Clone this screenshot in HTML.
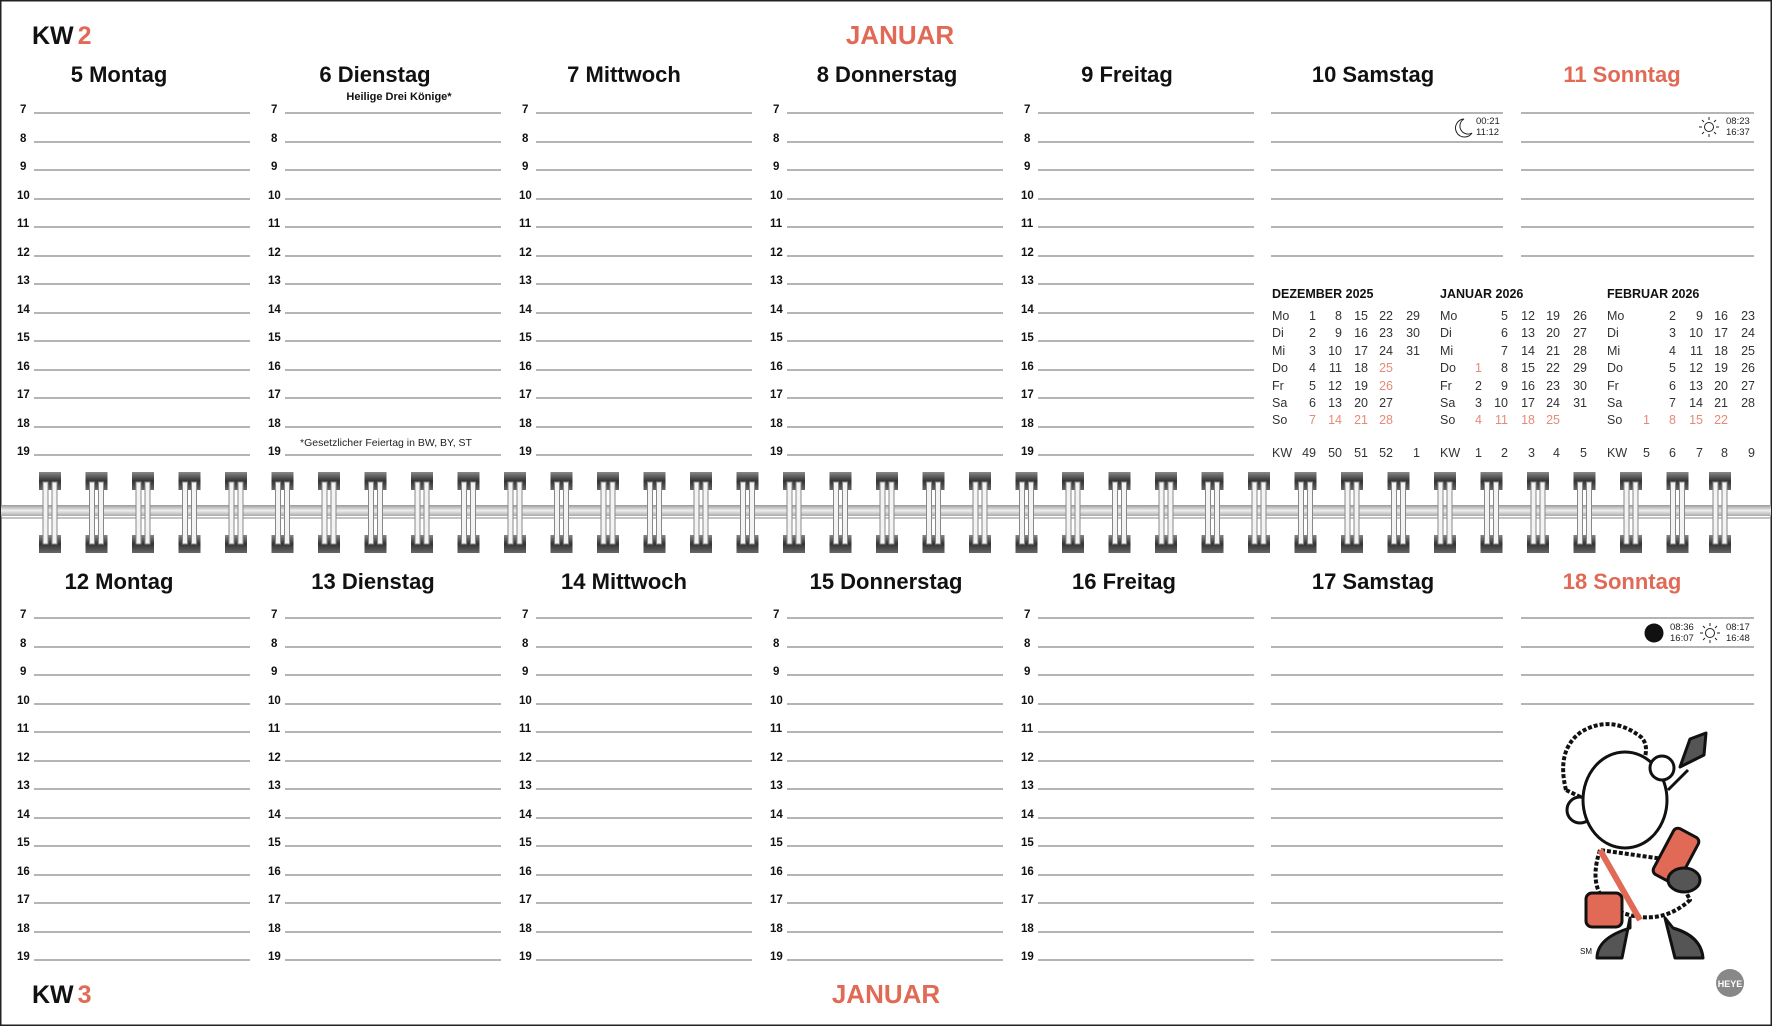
<!DOCTYPE html>
<html><head><meta charset="utf-8"><style>
html,body{margin:0;padding:0;background:#fff}
svg{display:block}
.h{font-family:"Liberation Sans",sans-serif;font-size:11.5px;font-weight:bold;fill:#111}
.t{font-family:"Liberation Sans",sans-serif;font-weight:bold;font-size:22px;fill:#111;text-anchor:middle}
.r{fill:#e06a55}
.c{font-family:"Liberation Sans",sans-serif;font-size:12.5px;fill:#333}
.cr{fill:#e58a78}
.ch{font-family:"Liberation Sans",sans-serif;font-weight:bold;font-size:12.5px;fill:#111}
.s{font-family:"Liberation Sans",sans-serif;font-size:9.5px;fill:#222}
</style></head><body>
<svg width="1772" height="1026" viewBox="0 0 1772 1026" xmlns="http://www.w3.org/2000/svg">
<defs>
<g id="hl">
<line x1="14" x2="230" y1="113" y2="113"/><line x1="14" x2="230" y1="142" y2="142"/><line x1="14" x2="230" y1="170" y2="170"/><line x1="14" x2="230" y1="199" y2="199"/><line x1="14" x2="230" y1="227" y2="227"/><line x1="14" x2="230" y1="256" y2="256"/><line x1="14" x2="230" y1="284" y2="284"/><line x1="14" x2="230" y1="313" y2="313"/><line x1="14" x2="230" y1="341" y2="341"/><line x1="14" x2="230" y1="370" y2="370"/><line x1="14" x2="230" y1="398" y2="398"/><line x1="14" x2="230" y1="427" y2="427"/><line x1="14" x2="230" y1="455" y2="455"/>
</g>
<g id="hl2">
<line x1="14" x2="246" y1="113" y2="113"/><line x1="14" x2="246" y1="142" y2="142"/><line x1="14" x2="246" y1="170" y2="170"/><line x1="14" x2="246" y1="199" y2="199"/><line x1="14" x2="246" y1="227" y2="227"/><line x1="14" x2="246" y1="256" y2="256"/><line x1="14" x2="246" y1="284" y2="284"/><line x1="14" x2="246" y1="313" y2="313"/><line x1="14" x2="246" y1="341" y2="341"/><line x1="14" x2="246" y1="370" y2="370"/><line x1="14" x2="246" y1="398" y2="398"/><line x1="14" x2="246" y1="427" y2="427"/><line x1="14" x2="246" y1="455" y2="455"/>
</g>
<linearGradient id="cap" x1="0" y1="0" x2="0" y2="1"><stop offset="0" stop-color="#888"/><stop offset="0.5" stop-color="#333"/><stop offset="1" stop-color="#666"/></linearGradient>
<linearGradient id="band" x1="0" y1="0" x2="0" y2="1"><stop offset="0" stop-color="#999"/><stop offset="0.5" stop-color="#eee"/><stop offset="1" stop-color="#aaa"/></linearGradient>
<g id="ring">
<rect x="-11" y="472" width="22" height="18" fill="url(#cap)"/>
<rect x="-11" y="535" width="22" height="18" fill="url(#cap)"/>
<rect x="-7" y="482" width="5" height="62" fill="#f4f4f4" stroke="#888" stroke-width="1"/>
<rect x="2" y="482" width="5" height="62" fill="#f4f4f4" stroke="#888" stroke-width="1"/>
</g>
</defs>
<rect x="0.5" y="0.5" width="1771" height="1025" fill="#fff" stroke="#222" stroke-width="2"/>

<text x="32" y="44" font-family="Liberation Sans,sans-serif" font-weight="bold" font-size="25" fill="#111">KW<tspan class="r" dx="4">2</tspan></text>
<text x="900" y="44" text-anchor="middle" font-family="Liberation Sans,sans-serif" font-weight="bold" font-size="26" class="r">JANUAR</text>
<text x="32" y="1003" font-family="Liberation Sans,sans-serif" font-weight="bold" font-size="25" fill="#111">KW<tspan class="r" dx="4">3</tspan></text>
<text x="886" y="1003" text-anchor="middle" font-family="Liberation Sans,sans-serif" font-weight="bold" font-size="26" class="r">JANUAR</text>

<text class="t" x="119" y="82">5  Montag</text>
<text class="t" x="375" y="82">6  Dienstag</text>
<text class="t" x="624" y="82">7  Mittwoch</text>
<text class="t" x="887" y="82">8  Donnerstag</text>
<text class="t" x="1127" y="82">9  Freitag</text>
<text class="t" x="1373" y="82">10  Samstag</text>
<text class="t r" x="1622" y="82">11  Sonntag</text>
<text class="t" x="119" y="589">12  Montag</text>
<text class="t" x="373" y="589">13  Dienstag</text>
<text class="t" x="624" y="589">14  Mittwoch</text>
<text class="t" x="886" y="589">15  Donnerstag</text>
<text class="t" x="1124" y="589">16  Freitag</text>
<text class="t" x="1373" y="589">17  Samstag</text>
<text class="t r" x="1622" y="589">18  Sonntag</text>
<text x="399" y="100" text-anchor="middle" font-family="Liberation Sans,sans-serif" font-weight="bold" font-size="11" fill="#111">Heilige Drei Könige*</text>
<text x="300" y="446" font-family="Liberation Sans,sans-serif" font-size="10.5" fill="#222">*Gesetzlicher Feiertag in BW, BY, ST</text>

<g stroke="#888" stroke-width="1.3">
<use href="#hl" transform="translate(20,0)"/><use href="#hl" transform="translate(271,0)"/><use href="#hl" transform="translate(522,0)"/><use href="#hl" transform="translate(773,0)"/><use href="#hl" transform="translate(1024,0)"/>
<use href="#hl" transform="translate(20,505)"/><use href="#hl" transform="translate(271,505)"/><use href="#hl" transform="translate(522,505)"/><use href="#hl" transform="translate(773,505)"/><use href="#hl" transform="translate(1024,505)"/>
<use href="#hl2" transform="translate(1257,505)"/>
<line x1="1271" x2="1503" y1="113" y2="113"/><line x1="1271" x2="1503" y1="142" y2="142"/><line x1="1271" x2="1503" y1="170" y2="170"/><line x1="1271" x2="1503" y1="199" y2="199"/><line x1="1271" x2="1503" y1="227" y2="227"/><line x1="1271" x2="1503" y1="256" y2="256"/>
<line x1="1521" x2="1754" y1="113" y2="113"/><line x1="1521" x2="1754" y1="142" y2="142"/><line x1="1521" x2="1754" y1="170" y2="170"/><line x1="1521" x2="1754" y1="199" y2="199"/><line x1="1521" x2="1754" y1="227" y2="227"/><line x1="1521" x2="1754" y1="256" y2="256"/>
<line x1="1521" x2="1754" y1="618" y2="618"/><line x1="1521" x2="1754" y1="647" y2="647"/><line x1="1521" x2="1754" y1="675" y2="675"/><line x1="1521" x2="1754" y1="704" y2="704"/>
</g>

<g class="h">
<g transform="translate(20,0)"><text x="0" y="113">7</text><text x="0" y="142">8</text><text x="0" y="170">9</text><text x="-3" y="199">10</text><text x="-3" y="227">11</text><text x="-3" y="256">12</text><text x="-3" y="284">13</text><text x="-3" y="313">14</text><text x="-3" y="341">15</text><text x="-3" y="370">16</text><text x="-3" y="398">17</text><text x="-3" y="427">18</text><text x="-3" y="455">19</text></g>
<g transform="translate(271,0)"><text x="0" y="113">7</text><text x="0" y="142">8</text><text x="0" y="170">9</text><text x="-3" y="199">10</text><text x="-3" y="227">11</text><text x="-3" y="256">12</text><text x="-3" y="284">13</text><text x="-3" y="313">14</text><text x="-3" y="341">15</text><text x="-3" y="370">16</text><text x="-3" y="398">17</text><text x="-3" y="427">18</text><text x="-3" y="455">19</text></g>
<g transform="translate(522,0)"><text x="0" y="113">7</text><text x="0" y="142">8</text><text x="0" y="170">9</text><text x="-3" y="199">10</text><text x="-3" y="227">11</text><text x="-3" y="256">12</text><text x="-3" y="284">13</text><text x="-3" y="313">14</text><text x="-3" y="341">15</text><text x="-3" y="370">16</text><text x="-3" y="398">17</text><text x="-3" y="427">18</text><text x="-3" y="455">19</text></g>
<g transform="translate(773,0)"><text x="0" y="113">7</text><text x="0" y="142">8</text><text x="0" y="170">9</text><text x="-3" y="199">10</text><text x="-3" y="227">11</text><text x="-3" y="256">12</text><text x="-3" y="284">13</text><text x="-3" y="313">14</text><text x="-3" y="341">15</text><text x="-3" y="370">16</text><text x="-3" y="398">17</text><text x="-3" y="427">18</text><text x="-3" y="455">19</text></g>
<g transform="translate(1024,0)"><text x="0" y="113">7</text><text x="0" y="142">8</text><text x="0" y="170">9</text><text x="-3" y="199">10</text><text x="-3" y="227">11</text><text x="-3" y="256">12</text><text x="-3" y="284">13</text><text x="-3" y="313">14</text><text x="-3" y="341">15</text><text x="-3" y="370">16</text><text x="-3" y="398">17</text><text x="-3" y="427">18</text><text x="-3" y="455">19</text></g>
<g transform="translate(20,505)"><text x="0" y="113">7</text><text x="0" y="142">8</text><text x="0" y="170">9</text><text x="-3" y="199">10</text><text x="-3" y="227">11</text><text x="-3" y="256">12</text><text x="-3" y="284">13</text><text x="-3" y="313">14</text><text x="-3" y="341">15</text><text x="-3" y="370">16</text><text x="-3" y="398">17</text><text x="-3" y="427">18</text><text x="-3" y="455">19</text></g>
<g transform="translate(271,505)"><text x="0" y="113">7</text><text x="0" y="142">8</text><text x="0" y="170">9</text><text x="-3" y="199">10</text><text x="-3" y="227">11</text><text x="-3" y="256">12</text><text x="-3" y="284">13</text><text x="-3" y="313">14</text><text x="-3" y="341">15</text><text x="-3" y="370">16</text><text x="-3" y="398">17</text><text x="-3" y="427">18</text><text x="-3" y="455">19</text></g>
<g transform="translate(522,505)"><text x="0" y="113">7</text><text x="0" y="142">8</text><text x="0" y="170">9</text><text x="-3" y="199">10</text><text x="-3" y="227">11</text><text x="-3" y="256">12</text><text x="-3" y="284">13</text><text x="-3" y="313">14</text><text x="-3" y="341">15</text><text x="-3" y="370">16</text><text x="-3" y="398">17</text><text x="-3" y="427">18</text><text x="-3" y="455">19</text></g>
<g transform="translate(773,505)"><text x="0" y="113">7</text><text x="0" y="142">8</text><text x="0" y="170">9</text><text x="-3" y="199">10</text><text x="-3" y="227">11</text><text x="-3" y="256">12</text><text x="-3" y="284">13</text><text x="-3" y="313">14</text><text x="-3" y="341">15</text><text x="-3" y="370">16</text><text x="-3" y="398">17</text><text x="-3" y="427">18</text><text x="-3" y="455">19</text></g>
<g transform="translate(1024,505)"><text x="0" y="113">7</text><text x="0" y="142">8</text><text x="0" y="170">9</text><text x="-3" y="199">10</text><text x="-3" y="227">11</text><text x="-3" y="256">12</text><text x="-3" y="284">13</text><text x="-3" y="313">14</text><text x="-3" y="341">15</text><text x="-3" y="370">16</text><text x="-3" y="398">17</text><text x="-3" y="427">18</text><text x="-3" y="455">19</text></g>
</g>

<g stroke="#222" stroke-width="1" fill="none">
<path d="M1464 119 a9 9 0 1 0 8 14 a7 7 0 1 1 -8 -14z"/>
<g transform="translate(1709,127)"><circle r="4.5"/><path d="M0 -10V-7M0 7V10M-10 0H-7M7 0H10M-7 -7L-5 -5M5 5L7 7M-7 7L-5 5M5 -5L7 -7"/></g>
<g transform="translate(1710,633)"><circle r="4.5"/><path d="M0 -10V-7M0 7V10M-10 0H-7M7 0H10M-7 -7L-5 -5M5 5L7 7M-7 7L-5 5M5 -5L7 -7"/></g>
</g>
<circle cx="1654" cy="633" r="9.5" fill="#111"/>
<text class="s" x="1476" y="124">00:21</text><text class="s" x="1476" y="135">11:12</text>
<text class="s" x="1726" y="124">08:23</text><text class="s" x="1726" y="135">16:37</text>
<text class="s" x="1670" y="630">08:36</text><text class="s" x="1670" y="641">16:07</text>
<text class="s" x="1726" y="630">08:17</text><text class="s" x="1726" y="641">16:48</text>

<g>
<text class="ch" x="1272" y="298">DEZEMBER 2025</text>
<text class="ch r" x="1440" y="298">JANUAR 2026</text>
<text class="ch" x="1607" y="298">FEBRUAR 2026</text>
<g class="c">
<text x="1272" y="320">Mo</text><text x="1272" y="337">Di</text><text x="1272" y="355">Mi</text><text x="1272" y="372">Do</text><text x="1272" y="390">Fr</text><text x="1272" y="407">Sa</text><text x="1272" y="424">So</text><text x="1272" y="457">KW</text>
<text x="1440" y="320">Mo</text><text x="1440" y="337">Di</text><text x="1440" y="355">Mi</text><text x="1440" y="372">Do</text><text x="1440" y="390">Fr</text><text x="1440" y="407">Sa</text><text x="1440" y="424">So</text><text x="1440" y="457">KW</text>
<text x="1607" y="320">Mo</text><text x="1607" y="337">Di</text><text x="1607" y="355">Mi</text><text x="1607" y="372">Do</text><text x="1607" y="390">Fr</text><text x="1607" y="407">Sa</text><text x="1607" y="424">So</text><text x="1607" y="457">KW</text>
</g>
<g class="c" text-anchor="end">
<text x="1316" y="320">1</text><text x="1342" y="320">8</text><text x="1368" y="320">15</text><text x="1393" y="320">22</text><text x="1420" y="320">29</text>
<text x="1316" y="337">2</text><text x="1342" y="337">9</text><text x="1368" y="337">16</text><text x="1393" y="337">23</text><text x="1420" y="337">30</text>
<text x="1316" y="355">3</text><text x="1342" y="355">10</text><text x="1368" y="355">17</text><text x="1393" y="355">24</text><text x="1420" y="355">31</text>
<text x="1316" y="372">4</text><text x="1342" y="372">11</text><text x="1368" y="372">18</text><text class="cr" x="1393" y="372">25</text>
<text x="1316" y="390">5</text><text x="1342" y="390">12</text><text x="1368" y="390">19</text><text class="cr" x="1393" y="390">26</text>
<text x="1316" y="407">6</text><text x="1342" y="407">13</text><text x="1368" y="407">20</text><text x="1393" y="407">27</text>
<text class="cr" x="1316" y="424">7</text><text class="cr" x="1342" y="424">14</text><text class="cr" x="1368" y="424">21</text><text class="cr" x="1393" y="424">28</text>
<text x="1316" y="457">49</text><text x="1342" y="457">50</text><text x="1368" y="457">51</text><text x="1393" y="457">52</text><text x="1420" y="457">1</text>
<text x="1508" y="320">5</text><text x="1535" y="320">12</text><text x="1560" y="320">19</text><text x="1587" y="320">26</text>
<text x="1508" y="337">6</text><text x="1535" y="337">13</text><text x="1560" y="337">20</text><text x="1587" y="337">27</text>
<text x="1508" y="355">7</text><text x="1535" y="355">14</text><text x="1560" y="355">21</text><text x="1587" y="355">28</text>
<text class="cr" x="1482" y="372">1</text><text x="1508" y="372">8</text><text x="1535" y="372">15</text><text x="1560" y="372">22</text><text x="1587" y="372">29</text>
<text x="1482" y="390">2</text><text x="1508" y="390">9</text><text x="1535" y="390">16</text><text x="1560" y="390">23</text><text x="1587" y="390">30</text>
<text x="1482" y="407">3</text><text x="1508" y="407">10</text><text x="1535" y="407">17</text><text x="1560" y="407">24</text><text x="1587" y="407">31</text>
<text class="cr" x="1482" y="424">4</text><text class="cr" x="1508" y="424">11</text><text class="cr" x="1535" y="424">18</text><text class="cr" x="1560" y="424">25</text>
<text x="1482" y="457">1</text><text x="1508" y="457">2</text><text x="1535" y="457">3</text><text x="1560" y="457">4</text><text x="1587" y="457">5</text>
<text x="1676" y="320">2</text><text x="1703" y="320">9</text><text x="1728" y="320">16</text><text x="1755" y="320">23</text>
<text x="1676" y="337">3</text><text x="1703" y="337">10</text><text x="1728" y="337">17</text><text x="1755" y="337">24</text>
<text x="1676" y="355">4</text><text x="1703" y="355">11</text><text x="1728" y="355">18</text><text x="1755" y="355">25</text>
<text x="1676" y="372">5</text><text x="1703" y="372">12</text><text x="1728" y="372">19</text><text x="1755" y="372">26</text>
<text x="1676" y="390">6</text><text x="1703" y="390">13</text><text x="1728" y="390">20</text><text x="1755" y="390">27</text>
<text x="1676" y="407">7</text><text x="1703" y="407">14</text><text x="1728" y="407">21</text><text x="1755" y="407">28</text>
<text class="cr" x="1650" y="424">1</text><text class="cr" x="1676" y="424">8</text><text class="cr" x="1703" y="424">15</text><text class="cr" x="1728" y="424">22</text>
<text x="1650" y="457">5</text><text x="1676" y="457">6</text><text x="1703" y="457">7</text><text x="1728" y="457">8</text><text x="1755" y="457">9</text>
</g>
</g>

<rect x="1" y="505" width="1770" height="11" fill="url(#band)"/>
<line x1="1" x2="1771" y1="518" y2="518" stroke="#888" stroke-width="1"/>
<g>
<use href="#ring" x="50"/><use href="#ring" x="96.5"/><use href="#ring" x="143"/><use href="#ring" x="189.5"/><use href="#ring" x="236"/><use href="#ring" x="282.5"/><use href="#ring" x="329"/><use href="#ring" x="375.5"/><use href="#ring" x="422"/><use href="#ring" x="468.5"/><use href="#ring" x="515"/><use href="#ring" x="561.5"/><use href="#ring" x="608"/><use href="#ring" x="654.5"/><use href="#ring" x="701"/><use href="#ring" x="747.5"/><use href="#ring" x="794"/><use href="#ring" x="840.5"/><use href="#ring" x="887"/><use href="#ring" x="933.5"/><use href="#ring" x="980"/><use href="#ring" x="1026.5"/><use href="#ring" x="1073"/><use href="#ring" x="1119.5"/><use href="#ring" x="1166"/><use href="#ring" x="1212.5"/><use href="#ring" x="1259"/><use href="#ring" x="1305.5"/><use href="#ring" x="1352"/><use href="#ring" x="1398.5"/><use href="#ring" x="1445"/><use href="#ring" x="1491.5"/><use href="#ring" x="1538"/><use href="#ring" x="1584.5"/><use href="#ring" x="1631"/><use href="#ring" x="1677.5"/><use href="#ring" x="1720"/>
</g>

<g stroke="#111" stroke-width="3" stroke-linejoin="round">
<path d="M1566 790 q-10 -40 15 -58 q30 -18 60 5 q10 10 0 30 l-40 40 z" fill="#fff" stroke-dasharray="4 2" stroke-width="4"/>
<path d="M1600 850 q-15 45 20 62 q40 15 70 -12 l-20 -40 z" fill="#fff" stroke-dasharray="4 2" stroke-width="4"/>
<circle cx="1580" cy="810" r="13" fill="#fff"/>
<ellipse cx="1625" cy="800" rx="42" ry="48" fill="#fff"/>
<circle cx="1662" cy="768" r="12" fill="#fff"/>
<path d="M1668 790 l20 -20" fill="none"/>
<path d="M1680 767 l10 -28 l16 -6 l-2 22 z" fill="#555"/>
<path d="M1600 850 l40 70" stroke="#e06a55" stroke-width="6" fill="none"/>
<rect x="1586" y="893" width="36" height="34" rx="6" fill="#e06a55"/>
<rect x="1662" y="830" width="28" height="52" rx="5" fill="#e06a55" transform="rotate(28 1676 856)"/>
<ellipse cx="1684" cy="880" rx="16" ry="12" fill="#555"/>
<path d="M1630 918 l-8 40 h-25 q0 -20 33 -30z" fill="#555"/>
<path d="M1665 918 l10 40 h28 q-2 -22 -30 -30z" fill="#555"/>
</g>
<text x="1580" y="954" font-family="Liberation Sans,sans-serif" font-size="8" fill="#111">SM</text>
<circle cx="1730" cy="983" r="14" fill="#888"/>
<text x="1730" y="987" text-anchor="middle" font-family="Liberation Sans,sans-serif" font-weight="bold" font-size="9" fill="#fff">HEYE</text>
</svg>
</body></html>
